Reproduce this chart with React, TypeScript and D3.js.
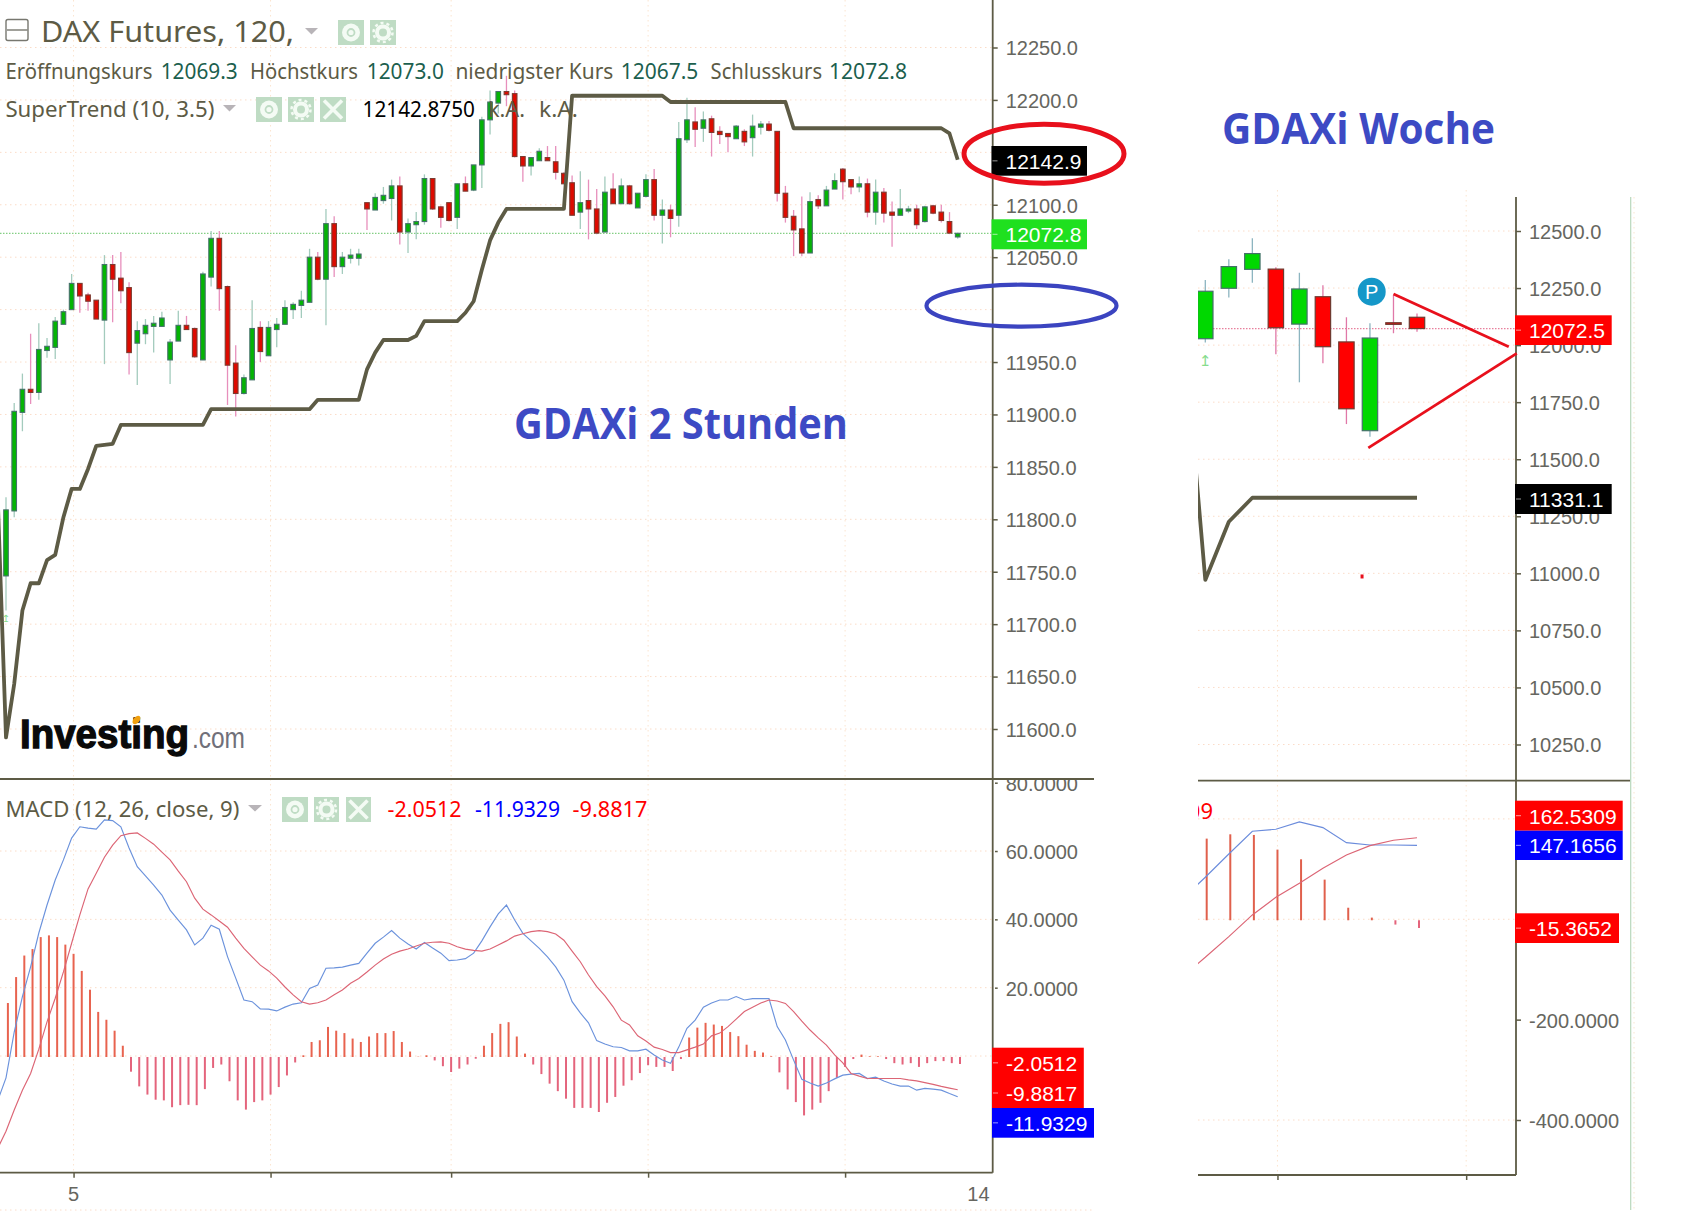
import { useEffect, useRef } from 'react';
import * as d3 from 'd3';

// 2h candles, oldest first
const opens = [11746,11808,11902,11924,11921,11961,11964,11986,12000,12025,12014,12009,11990,12043,12030,12021,11968,11977,11984,11984,11952,11970,11985,11982,11952,12031,12068,12022,11949,11920,11933,11983,11956,11981,11986,12000,12004,12007,12050,12029,12082,12041,12049,12049,12102,12095,12104,12106,12118,12074,12081,12084,12125,12098,12102,12088,12120,12114,12138,12181,12197,12208,12206,12146,12137,12142,12145,12141,12130,12121,12093,12104,12096,12074,12115,12101,12118,12097,12108,12124,12090,12095,12090,12162,12179,12173,12182,12170,12168,12163,12170,12164,12174,12177,12170,12111,12089,12077,12054,12105,12099,12115,12134,12124,12117,12120,12093,12112,12093,12090,12094,12096,12084,12099,12093,12084,12069.3];
const highs = [11821,11911,11939,11977,11987,11973,11993,12000,12034,12025,12016,12009,12052,12052,12055,12026,11989,11991,11994,11998,11972,11999,11994,11983,12036,12075,12075,12023,11966,11938,12009,11989,11989,11992,12009,12007,12018,12058,12055,12096,12089,12055,12058,12058,12102,12111,12117,12124,12127,12087,12093,12129,12125,12099,12102,12120,12127,12138,12184,12209,12208,12223,12209,12146,12145,12154,12156,12156,12131,12128,12132,12124,12115,12127,12130,12125,12119,12111,12129,12134,12105,12100,12179,12202,12193,12189,12185,12175,12168,12176,12172,12186,12180,12180,12170,12118,12095,12108,12112,12109,12118,12130,12135,12124,12127,12125,12124,12116,12103,12115,12099,12100,12099,12100,12100,12093,12073];
const lows = [11713,11802,11884,11910,11914,11954,11953,11986,12000,11997,11999,11991,11948,11988,12006,11938,11928,11967,11959,11984,11929,11970,11981,11954,11952,12022,11999,11909,11898,11919,11933,11950,11956,11964,11986,11991,11992,12007,12028,11985,12031,12034,12044,12042,12076,12095,12101,12085,12062,12054,12067,12081,12095,12078,12084,12077,12113,12113,12116,12167,12187,12194,12145,12122,12128,12142,12142,12124,12120,12090,12077,12067,12072,12074,12101,12101,12100,12097,12107,12085,12063,12069,12079,12159,12155,12160,12146,12158,12150,12163,12156,12146,12167,12170,12103,12083,12051,12051,12054,12096,12099,12115,12105,12110,12112,12088,12081,12083,12060,12090,12092,12077,12083,12091,12083,12072,12067.5];
const closes = [11809,11903,11924,11921,11962,11965,11989,11998,12025,12013,12008,11991,12043,12029,12018,11959,11980,11985,11987,11992,11969,11985,11981,11955,12034,12068,12020,11947,11920,11935,11982,11960,11983,11986,12002,12005,12009,12050,12029,12082,12041,12050,12052,12053,12096,12107,12109,12118,12074,12082,12084,12125,12096,12088,12085,12120,12113,12138,12181,12198,12208,12205,12146,12137,12145,12151,12142,12131,12120,12090,12102,12096,12073,12112,12101,12118,12101,12111,12124,12090,12095,12087,12163,12181,12172,12181,12169,12167,12165,12175,12160,12175,12177,12171,12111,12088,12076,12054,12103,12099,12114,12123,12122,12117,12120,12093,12112,12092,12090,12096,12096,12081,12098,12092,12085,12073,12072.8];

// SuperTrend only changes at these bars, flat in between
const trendBars = [-1,0,1,2,3,4,5,6,7,8,9,10,11,12,13,14,24,25,37,38,43,44,45,46,49,50,51,55,56,57,58,59,60,61,68,69,80,81,95,96,114,115,116];
const trendValues = [11818,11592,11643,11713,11739,11739,11761,11766,11802,11829,11829,11848,11870,11871,11872,11890,11890,11905,11905,11914,11914,11943,11959,11971,11971,11975,11989,11989,11997,12008,12038,12066,12083,12096,12096,12204,12204,12198,12198,12173,12173,12168,12142.9];

// MACD per bar, first value is the bar before the first candle
const macdLine = [-13,-6.4,7,17.4,26.1,36,44.2,51.5,57.4,63.8,67.1,66.7,66.4,69.1,68.9,67.1,60.9,55.4,52.7,50,47.1,42.7,39.8,36.9,32.5,34.5,38.3,37.1,29.1,22.8,16.4,15.9,13.8,13.7,13.2,14.3,15.2,15.6,19.8,20.8,25.7,25.8,26,26.6,27.1,30.1,33,34.8,36.7,34.5,32.8,31.3,33.2,31.6,30.1,27.9,28.1,28.5,30.1,33.7,37.8,41.6,44.2,39.8,35.9,33.7,31.5,29,26.1,22.2,15.9,12.6,9.7,4.5,3.5,2.7,2.5,1.5,1.5,2,0.3,-1.2,-2.1,2.6,8.1,10.5,14.3,15.5,16.4,16.4,17.4,16.4,16.8,16.8,16.8,8.6,4.7,-1.2,-6.8,-7.9,-8.8,-7.9,-6.7,-5.6,-5.3,-5.1,-6.6,-6.2,-7.3,-8.2,-8.8,-8.8,-10,-9.5,-9.7,-10,-11,-11.9329];
const signalLine = [-27,-22,-15.8,-10,-5.1,2,10,16.9,24.6,33,41.3,48.9,53.5,58.2,61.7,64.5,65.1,65.3,63.7,62,59.7,57.4,54.1,51,46.2,43,41.3,39.5,37.7,34.5,31.5,29,26.6,24.9,22.8,20.2,17.9,15.9,15.2,15.6,16.4,17.9,19.3,21.3,22.7,24.6,26.6,28.4,29.8,30.7,31.3,32.2,33,33.3,33.4,33,32,31.3,30.9,30.7,31.3,32.5,33.7,35.1,35.8,36.4,36.7,36.4,35.7,33.9,30.7,27.6,23.7,20.3,17.6,14.4,10.5,9.1,5.9,4.4,2.6,1.9,1,1,1.8,2.6,3.5,5.9,6.7,8.6,10.8,13,14.3,15.5,16.4,16.1,15.4,13,10.2,7.6,5.3,3.2,0.3,-2,-5.1,-5.9,-6.6,-6.6,-6.6,-6.6,-6.6,-7,-7.3,-7.8,-8.3,-8.9,-9.4,-9.8817];
const histogram = [15.8,23.4,29.7,31.6,35.1,35.6,35.1,32.9,30.2,25.2,19.7,13.2,10.9,7.7,3.3,-4.3,-8.6,-11,-12.5,-12.7,-14.7,-14.1,-14,-14.1,-9.4,-3.2,-2.2,-7.1,-12.7,-15.4,-13.2,-12.7,-11,-8.8,-5.4,-1.6,0.5,4.4,4.9,8.8,7.7,7,5.4,4.4,6,7,7,7.6,4.4,1.6,0.1,0.5,-1,-2.7,-4.4,-3.4,-2.2,-0.5,3.3,7,9.7,10.2,6,1,-2.2,-5,-7.8,-10,-12.2,-14.9,-14.9,-14.9,-16.1,-13.4,-11.7,-8.4,-6.8,-4.7,-2.4,-2.9,-2.9,-4.1,-0.6,5.7,8.6,10,9.5,9.1,7.3,6.1,3.6,1.8,1.3,0.2,-4.5,-9.5,-13.2,-17.1,-15.4,-13.4,-10,-6.1,-2.9,-0.6,0.7,0.2,0.2,-0.6,-1.8,-2.2,-1.8,-2.9,-1.8,-1.2,-1.2,-1.8,-2.05];

const priceTicks = [12250,12200,12150,12100,12050,11950,11900,11850,11800,11750,11700,11650,11600];
const priceGrid = [12250,12200,12150,12100,12050,12000,11950,11900,11850,11800,11750,11700,11650,11600];
const macdTicks = [80,60,40,20];
const macdGrid = [60,40,20,0];
const dayBars = [8,32,54,78,102];

// weekly chart
const weekOpens = [12028,12249,12332,12333,12092,12212,12014,11625,12098,12122];
const weekHighs = [12285,12376,12468,12341,12317,12262,12122,12096,12220,12139];
const weekLows = [12011,12209,12273,11960,11837,11920,11654,11599,12052,12059];
const weekCloses = [12236,12344,12401,12076,12246,11993,11721,12031,12091,12072.5];
const weekTrendBars = [-1,0,1,2,9];
const weekTrendValues = [12171,10971,11226,11331.1,11331.1];
const weekMacd = [39.4,83.7,130,175.3,179.3,193.9,182.6,152.7,148,148,147.1656];
const weekSignal = [-115,-75.7,-34.5,8.6,43.8,71.7,101.6,128,146.7,157.4,162.5309];
const weekHist = [162.7,171.3,170,140.8,121.5,81,25,5.3,-8.6,-15.3652];
const weekPriceTicks = [12500,12250,12000,11750,11500,11250,11000,10750,10500,10250];
const weekMacdTicks = [-200,-400];
const weekMacdGrid = [200,0,-400];
const weekDayBars = [3,11];
// hand drawn triangle on the weekly chart: [bar, price]
const wedgeTop: [number, number][] = [[8,12224],[12.9,11993]];
const wedgeBottom: [number, number][] = [[6.93,11550],[13.24,11964]];

const UI_FONT = '"Noto Sans", sans-serif';
const AXIS_FONT = '"Liberation Sans", Arial, sans-serif';
const OLIVE = '#5d5b45';
const GREY_TEXT = '#666660';
const LEGEND_GREEN = '#1c5f4e';

type Sel = d3.Selection<SVGGElement, unknown, null, undefined>;

function txt(g: Sel, x: number, y: number, s: string, fill: string, size: number, len?: number, font = UI_FONT, weight = 'normal') {
  const t = g.append('text')
    .attr('x', x).attr('y', y)
    .attr('fill', fill)
    .attr('font-family', font)
    .attr('font-size', size)
    .attr('font-weight', weight)
    .text(s);
  if (len) t.attr('textLength', len).attr('lengthAdjust', 'spacingAndGlyphs');
  return t;
}

function gridH(g: Sel, ys: number[], x0: number, x1: number) {
  ys.forEach((y) => {
    g.append('line').attr('x1', x0).attr('x2', x1).attr('y1', y).attr('y2', y)
      .attr('stroke', '#fbdcc8').attr('stroke-width', 1).attr('stroke-dasharray', '1.5,3.5');
  });
}

function gridV(g: Sel, xs: number[], y0: number, y1: number) {
  xs.forEach((x) => {
    g.append('line').attr('x1', x).attr('x2', x).attr('y1', y0).attr('y2', y1)
      .attr('stroke', '#fbe4cf').attr('stroke-width', 1).attr('stroke-dasharray', '1.5,3.5');
  });
}

function valueBox(g: Sel, x: number, x1: number, yTop: number, yBot: number, fill: string, s: string) {
  g.append('rect').attr('x', x).attr('y', yTop).attr('width', x1 - x).attr('height', yBot - yTop).attr('fill', fill);
  g.append('line').attr('x1', x + 1).attr('x2', x + 6).attr('y1', (yTop + yBot) / 2).attr('y2', (yTop + yBot) / 2)
    .attr('stroke', '#fff').attr('stroke-opacity', 0.6);
  txt(g, x + 14, (yTop + yBot) / 2 + 8, s, '#fff', 21, undefined, AXIS_FONT);
}

function styleAxis(a: d3.Selection<SVGGElement, unknown, null, undefined>) {
  a.select('.domain').remove();
  a.selectAll('.tick line').attr('stroke', OLIVE).attr('stroke-width', 1.5);
  a.selectAll('.tick text')
    .attr('fill', GREY_TEXT)
    .attr('font-family', AXIS_FONT)
    .attr('font-size', 20)
    .attr('dy', '0.37em');
}

function toolIcon(g: Sel, x: number, y: number, w: number, h: number, kind: 'eye' | 'gear' | 'close') {
  const cx = x + w / 2;
  const cy = y + h / 2;
  g.append('rect').attr('x', x).attr('y', y).attr('width', w).attr('height', h).attr('fill', '#bfdcc4');
  if (kind === 'eye') {
    g.append('circle').attr('cx', cx).attr('cy', cy).attr('r', 9).attr('fill', '#f4fbf4');
    g.append('circle').attr('cx', cx).attr('cy', cy).attr('r', 3.5).attr('fill', 'none').attr('stroke', '#bfdcc4').attr('stroke-width', 1.8);
  } else if (kind === 'gear') {
    g.append('circle').attr('cx', cx).attr('cy', cy).attr('r', 6).attr('fill', 'none').attr('stroke', '#f4fbf4').attr('stroke-width', 4);
    g.append('circle').attr('cx', cx).attr('cy', cy).attr('r', 9.5).attr('fill', 'none').attr('stroke', '#f4fbf4').attr('stroke-width', 2.5).attr('stroke-dasharray', '3,3');
  } else {
    [[-1, -1, 1, 1], [-1, 1, 1, -1]].forEach((d) => {
      g.append('line')
        .attr('x1', cx + d[0] * 9).attr('y1', cy + d[1] * 9)
        .attr('x2', cx + d[2] * 9).attr('y2', cy + d[3] * 9)
        .attr('stroke', '#f4fbf4').attr('stroke-width', 3.5);
    });
  }
}

function dropdown(g: Sel, x: number, y: number, w: number, h: number) {
  g.append('path').attr('d', `M${x},${y}L${x + w},${y}L${x + w / 2},${y + h}Z`).attr('fill', '#b8b4b8');
}

export default function App() {
  const svgRef = useRef<SVGSVGElement>(null);

  useEffect(() => {
    if (!svgRef.current) return;
    const svg = d3.select(svgRef.current);
    svg.selectAll('*').remove();
    const root = svg.append('g') as unknown as Sel;

    const defs = svg.append('defs');
    const clip = (id: string, x: number, y: number, w: number, h: number) =>
      defs.append('clipPath').attr('id', id).append('rect').attr('x', x).attr('y', y).attr('width', w).attr('height', h);
    clip('macd-labels', 995, 780, 110, 400);
    clip('week-plot', 1198, 190, 318, 590);
    clip('week-macd', 1198, 781, 318, 394);

    const axisX = 992.7;
    const weekAxisX = 1516;
    const splitY = 779;
    const bottomY = 1172.7;

    // 2h chart scales
    const x = d3.scaleLinear().domain([0, 116]).range([6, 957.7]);
    const y = d3.scaleLinear().domain([12250, 11600]).range([47.5, 729]);
    const histX = d3.scaleLinear().domain([0, 116]).range([7.9, 960]);
    const macdY = d3.scaleLinear().domain([80, 0]).range([782.7, 1056]);

    // weekly scales
    const wx = d3.scaleLinear().domain([0, 9]).range([1205.3, 1417]);
    const wy = d3.scaleLinear().domain([12500, 10250]).range([231, 744.5]);
    const wHistX = d3.scaleLinear().domain([0, 9]).range([1206.7, 1419]);
    const wMacdY = d3.scaleLinear().domain([200, -400]).range([818.9, 1120]);

    // Grid
    gridH(root, priceGrid.map((d) => y(d)), 0, axisX);
    gridH(root, macdGrid.map((d) => macdY(d)), 0, axisX);
    gridV(root, dayBars.map((d) => histX(d)), 0, splitY);
    gridV(root, dayBars.map((d) => histX(d)), splitY, bottomY);
    gridH(root, weekPriceTicks.map((d) => wy(d)), 1198, weekAxisX);
    gridH(root, weekMacdGrid.map((d) => wMacdY(d)), 1198, weekAxisX);
    gridV(root, weekDayBars.map((d) => wHistX(d)), 190, bottomY);
    gridH(root, [1210], 0, 1094);
    gridV(root, [1634], 197, 1210);

    // Last price lines
    root.append('line').attr('x1', 0).attr('x2', axisX).attr('y1', y(12072.8)).attr('y2', y(12072.8))
      .attr('stroke', '#84cf84').attr('stroke-width', 1.2).attr('stroke-dasharray', '1.5,1.5');
    root.append('line').attr('x1', 1198).attr('x2', weekAxisX).attr('y1', wy(12072.5)).attr('y2', wy(12072.5))
      .attr('stroke', '#e87f9c').attr('stroke-width', 1.2).attr('stroke-dasharray', '1.5,1.5');

    // 2h candles
    const candles = root.append('g');
    opens.forEach((o, i) => {
      const c = closes[i];
      const up = c >= o;
      candles.append('line')
        .attr('x1', x(i)).attr('x2', x(i))
        .attr('y1', y(highs[i])).attr('y2', y(lows[i]))
        .attr('stroke', up ? '#a3cbbd' : '#e78fbc').attr('stroke-width', 1.3);
      const top = y(Math.max(o, c));
      const h = Math.max(y(Math.min(o, c)) - top, 2);
      candles.append('rect')
        .attr('x', x(i) - 2.3).attr('y', top)
        .attr('width', 4.6).attr('height', h)
        .attr('fill', up ? '#04b404' : '#dd0a00')
        .attr('stroke', up ? '#45706a' : '#7b3b30').attr('stroke-width', 1.1);
    });

    // SuperTrend
    const trend = d3.line<number>()
      .x((d) => x(d))
      .y((_, i) => y(trendValues[i]));
    root.append('path').attr('d', trend(trendBars))
      .attr('fill', 'none').attr('stroke', OLIVE).attr('stroke-width', 3.8).attr('stroke-linejoin', 'round');
    txt(root, x(0), 622, '↥', '#86dc8c', 10, undefined, '"DejaVu Sans"').attr('text-anchor', 'middle');

    // MACD histogram
    histogram.forEach((d, i) => {
      root.append('line')
        .attr('x1', histX(i)).attr('x2', histX(i))
        .attr('y1', macdY(0) + 1).attr('y2', macdY(d) + 1)
        .attr('stroke', d >= 0 ? '#e8634f' : '#e4647c').attr('stroke-width', 2);
    });

    // MACD lines
    const macdPath = d3.line<number>()
      .x((_, i) => x(i - 1))
      .y((d) => macdY(d));
    root.append('path').attr('d', macdPath(macdLine)).attr('fill', 'none').attr('stroke', '#6b92dc').attr('stroke-width', 1.15);
    root.append('path').attr('d', macdPath(signalLine)).attr('fill', 'none').attr('stroke', '#dc6575').attr('stroke-width', 1.15);

    // Weekly candles
    const wPlot = root.append('g').attr('clip-path', 'url(#week-plot)');
    weekOpens.forEach((o, i) => {
      const c = weekCloses[i];
      const up = c >= o;
      wPlot.append('line')
        .attr('x1', wx(i)).attr('x2', wx(i))
        .attr('y1', wy(weekHighs[i])).attr('y2', wy(weekLows[i]))
        .attr('stroke', up ? '#8db5c0' : '#e078a8').attr('stroke-width', 1.3);
      const top = wy(Math.max(o, c));
      const h = Math.max(wy(Math.min(o, c)) - top, 1.5);
      wPlot.append('rect')
        .attr('x', wx(i) - 7.7).attr('y', top)
        .attr('width', 15.4).attr('height', h)
        .attr('fill', up ? '#00d800' : '#ff0000')
        .attr('stroke', up ? '#45706a' : '#6e3a30').attr('stroke-width', 1.2);
    });
    const wTrend = d3.line<number>()
      .x((d) => wx(d))
      .y((_, i) => wy(weekTrendValues[i]));
    wPlot.append('path').attr('d', wTrend(weekTrendBars))
      .attr('fill', 'none').attr('stroke', OLIVE).attr('stroke-width', 3.8).attr('stroke-linejoin', 'round');
    wPlot.append('rect').attr('x', wx(6.6)).attr('y', wy(10995)).attr('width', 3).attr('height', 4).attr('fill', '#e8101c');
    txt(root, wx(0), 366, '↥', '#86dc8c', 15, undefined, '"DejaVu Sans"').attr('text-anchor', 'middle');

    // Weekly MACD
    const wMacd = root.append('g').attr('clip-path', 'url(#week-macd)');
    weekHist.forEach((d, i) => {
      wMacd.append('line')
        .attr('x1', wHistX(i)).attr('x2', wHistX(i))
        .attr('y1', wMacdY(0) + 1).attr('y2', wMacdY(d) + 1)
        .attr('stroke', d >= 0 ? '#e0604c' : '#e4647c').attr('stroke-width', 2);
    });
    const wMacdPath = d3.line<number>()
      .x((_, i) => wx(i - 1))
      .y((d) => wMacdY(d));
    wMacd.append('path').attr('d', wMacdPath(weekMacd)).attr('fill', 'none').attr('stroke', '#6b8cdc').attr('stroke-width', 1.15);
    wMacd.append('path').attr('d', wMacdPath(weekSignal)).attr('fill', 'none').attr('stroke', '#dc6575').attr('stroke-width', 1.15);
    txt(wMacd as unknown as Sel, 1213, 819, '09', '#ff0000', 22).attr('text-anchor', 'end');

    // Axes, the chart prints a plain hyphen for negatives
    const tickFmt = (spec: string) => (d: d3.NumberValue) => d3.format(spec)(Number(d)).replace('−', '-');
    const priceAxis = root.append('g').attr('transform', `translate(${axisX},0)`)
      .call(d3.axisRight(y).tickValues(priceTicks).tickSize(5).tickPadding(8).tickFormat(tickFmt('.1f')));
    styleAxis(priceAxis as unknown as Sel);
    const macdAxis = root.append('g').attr('clip-path', 'url(#macd-labels)').append('g').attr('transform', `translate(${axisX},0)`)
      .call(d3.axisRight(macdY).tickValues(macdTicks).tickSize(5).tickPadding(8).tickFormat(tickFmt('.4f')));
    styleAxis(macdAxis as unknown as Sel);
    const wPriceAxis = root.append('g').attr('transform', `translate(${weekAxisX},0)`)
      .call(d3.axisRight(wy).tickValues(weekPriceTicks).tickSize(5).tickPadding(8).tickFormat(tickFmt('.1f')));
    styleAxis(wPriceAxis as unknown as Sel);
    const wMacdAxis = root.append('g').attr('transform', `translate(${weekAxisX},0)`)
      .call(d3.axisRight(wMacdY).tickValues(weekMacdTicks).tickSize(5).tickPadding(8).tickFormat(tickFmt('.4f')));
    styleAxis(wMacdAxis as unknown as Sel);

    const timeAxis = root.append('g').attr('transform', `translate(0,${bottomY})`)
      .call(d3.axisBottom(histX).tickValues(dayBars).tickSize(5).tickFormat(() => ''));
    styleAxis(timeAxis as unknown as Sel);
    const wTimeAxis = root.append('g').attr('transform', `translate(0,1175)`)
      .call(d3.axisBottom(wHistX).tickValues(weekDayBars).tickSize(5).tickFormat(() => ''));
    styleAxis(wTimeAxis as unknown as Sel);
    txt(root, histX(8), 1200.5, '5', GREY_TEXT, 20, undefined, AXIS_FONT).attr('text-anchor', 'middle');
    txt(root, histX(118.25), 1200.5, '14', GREY_TEXT, 20, undefined, AXIS_FONT).attr('text-anchor', 'middle');

    // Frame lines
    const frame = (x1: number, y1: number, x2: number, y2: number, color = OLIVE, w = 1.8) =>
      root.append('line').attr('x1', x1).attr('y1', y1).attr('x2', x2).attr('y2', y2).attr('stroke', color).attr('stroke-width', w);
    frame(axisX, 0, axisX, bottomY);
    frame(0, splitY, 1094, splitY);
    frame(0, bottomY, axisX, bottomY);
    frame(weekAxisX, 197, weekAxisX, 1175);
    frame(1198, 780.7, 1630, 780.7);
    frame(1198, 1175, weekAxisX, 1175);
    frame(1630.7, 197, 1630.7, 1210, '#b8d8bc', 1.2);

    // Value boxes
    valueBox(root, 991.5, 1087, 146, 175.7, '#000', '12142.9');
    valueBox(root, 991.5, 1087, 219.3, 249.3, '#1fe01f', '12072.8');
    valueBox(root, 992, 1083.8, 1047.7, 1078, '#ff0000', '-2.0512');
    valueBox(root, 992, 1083.8, 1078, 1108, '#ff0000', '-9.8817');
    valueBox(root, 992, 1094, 1108, 1137.7, '#0000ff', '-11.9329');
    valueBox(root, 1515, 1611.7, 315.3, 345, '#ff0000', '12072.5');
    valueBox(root, 1515, 1611.7, 484, 514, '#000', '11331.1');
    valueBox(root, 1515, 1622.7, 800.7, 830.7, '#ff0000', '162.5309');
    valueBox(root, 1515, 1622.7, 830.7, 860, '#0000ff', '147.1656');
    valueBox(root, 1515, 1619, 913.3, 943, '#ff0000', '-15.3652');

    // Legend of the 2h chart
    root.append('rect').attr('x', 6).attr('y', 19.5).attr('width', 22).attr('height', 21).attr('rx', 2)
      .attr('fill', 'none').attr('stroke', '#77776f').attr('stroke-width', 1.4);
    root.append('line').attr('x1', 7).attr('x2', 27.5).attr('y1', 30).attr('y2', 30).attr('stroke', '#77776f').attr('stroke-width', 1.4);
    txt(root, 41, 41.7, 'DAX Futures, 120,', OLIVE, 29, 253);
    dropdown(root, 305, 28, 13, 6.5);
    toolIcon(root, 338, 20, 26, 25, 'eye');
    toolIcon(root, 370, 20, 26, 25, 'gear');

    txt(root, 5.4, 78.5, 'Eröffnungskurs', OLIVE, 22, 147);
    txt(root, 160.7, 78.5, '12069.3', LEGEND_GREEN, 22, 77);
    txt(root, 250, 78.5, 'Höchstkurs', OLIVE, 22, 108);
    txt(root, 366.8, 78.5, '12073.0', LEGEND_GREEN, 22, 77);
    txt(root, 455.4, 78.5, 'niedrigster Kurs', OLIVE, 22, 158);
    txt(root, 620.8, 78.5, '12067.5', LEGEND_GREEN, 22, 77.5);
    txt(root, 710.6, 78.5, 'Schlusskurs', OLIVE, 22, 111.5);
    txt(root, 829, 78.5, '12072.8', LEGEND_GREEN, 22, 78);

    txt(root, 5.4, 116.7, 'SuperTrend (10, 3.5)', OLIVE, 22, 209);
    dropdown(root, 223, 105, 13, 6.5);
    toolIcon(root, 256, 97, 26, 25, 'eye');
    toolIcon(root, 288, 97, 26, 25, 'gear');
    toolIcon(root, 320, 97, 26, 25, 'close');
    txt(root, 362.5, 116.7, '12142.8750', '#000', 22, 112.5);
    txt(root, 488, 116.7, 'k.A.', OLIVE, 22, 37);
    txt(root, 539, 116.7, 'k.A.', OLIVE, 22, 39);

    // Legend of the MACD pane
    txt(root, 5.4, 816.7, 'MACD (12, 26, close, 9)', OLIVE, 22, 234);
    dropdown(root, 248, 805, 14, 6.5);
    toolIcon(root, 282, 797, 26, 25, 'eye');
    toolIcon(root, 314, 797, 25, 25, 'gear');
    toolIcon(root, 346, 797, 25, 25, 'close');
    txt(root, 387.5, 816.7, '-2.0512', '#ff0000', 22, 74);
    txt(root, 475, 816.7, '-11.9329', '#0000ff', 22, 85);
    txt(root, 572.6, 816.7, '-9.8817', '#ff0000', 22, 74.7);

    // Logo
    txt(root, 20, 748, 'Investing', '#0a0a0a', 40, 169, AXIS_FONT, 'bold')
      .attr('stroke', '#0a0a0a').attr('stroke-width', 1.3);
    txt(root, 192, 748, '.com', '#70707a', 30, 53, AXIS_FONT);
    root.append('ellipse').attr('cx', 136.5).attr('cy', 720).attr('rx', 3).attr('ry', 5)
      .attr('transform', 'rotate(40 136.5 720)').attr('fill', '#f0a010');

    // Annotations
    txt(root, 514, 439, 'GDAXi 2 Stunden', '#3d4ac4', 43, 334, '"Open Sans", sans-serif', 'bold');
    txt(root, 1222, 144, 'GDAXi Woche', '#3d4ac4', 43, 273, '"Open Sans", sans-serif', 'bold');
    root.append('ellipse').attr('cx', 1044).attr('cy', 153.7).attr('rx', 80).attr('ry', 29.5)
      .attr('fill', 'none').attr('stroke', '#e8101c').attr('stroke-width', 5);
    root.append('ellipse').attr('cx', 1021.5).attr('cy', 305.7).attr('rx', 95).attr('ry', 21)
      .attr('fill', 'none').attr('stroke', '#3b44c0').attr('stroke-width', 4.2);

    const wedge = d3.line<[number, number]>().x((d) => wx(d[0])).y((d) => wy(d[1]));
    [wedgeTop, wedgeBottom].forEach((w) => {
      root.append('path').attr('d', wedge(w)).attr('fill', 'none').attr('stroke', '#e8101c').attr('stroke-width', 2.8);
    });
    root.append('circle').attr('cx', 1371.7).attr('cy', 291.7).attr('r', 14).attr('fill', '#1597c8');
    txt(root, 1371.7, 299, 'P', '#fff', 20, undefined, AXIS_FONT).attr('text-anchor', 'middle');
  }, []);

  return (
    <svg
      ref={svgRef}
      width={1704}
      height={1214}
      viewBox="0 0 1704 1214"
      style={{ position: 'absolute', left: 0, top: 0, background: '#fff' }}
    />
  );
}
